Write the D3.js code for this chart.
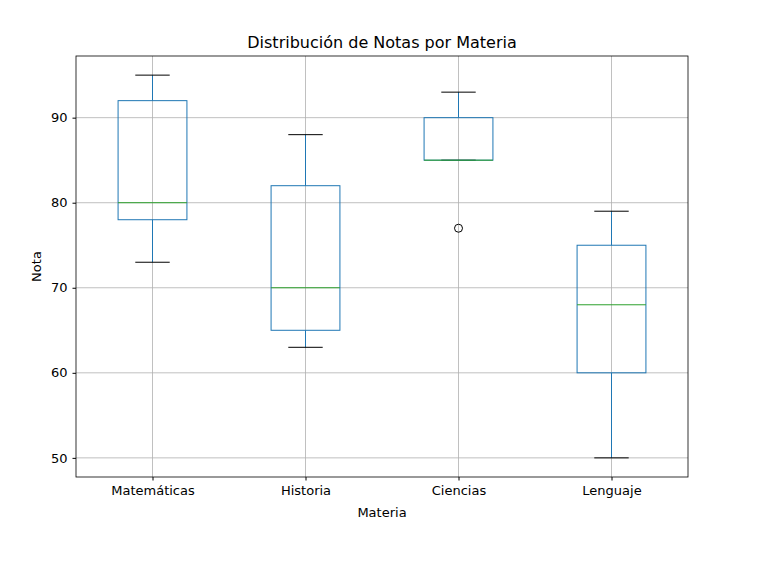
<!DOCTYPE html>
<html lang="es">
<head>
  <meta charset="UTF-8">
  <title>Distribución de Notas por Materia</title>
  <script src="https://d3js.org/d3.v7.min.js"></script>
  <style>
    body { margin: 0; background: #fff; }
    text { font-family: "DejaVu Sans", sans-serif; }
  </style>
</head>
<body>
  <svg id="chart"></svg>
  <script>
    // Box statistics
    const materias = ["Matemáticas", "Historia", "Ciencias", "Lenguaje"];
    const whiskerLow = [73, 63, 85, 50];
    const q1 = [78, 65, 85, 60];
    const medians = [80, 70, 85, 68];
    const q3 = [92, 82, 90, 75];
    const whiskerHigh = [95, 88, 93, 79];
    const outliers = [[], [], [77], []];
    const yTicks = [50, 60, 70, 80, 90];

    const width = 764, height = 561;
    const margin = { top: 56, right: 76, bottom: 84, left: 76 };

    const svg = d3.select("#chart").attr("width", width).attr("height", height);

    // Positions 1..4 like matplotlib
    const x = d3.scaleLinear().domain([0.5, 4.5]).range([margin.left, width - margin.right]);
    const y = d3.scaleLinear().domain([47.75, 97.25]).range([height - margin.bottom, margin.top]);

    const g = svg.append("g");

    // Grid
    g.selectAll(".hgrid").data(yTicks).enter().append("line")
      .attr("x1", x(0.5)).attr("x2", x(4.5))
      .attr("y1", d => y(d)).attr("y2", d => y(d))
      .attr("stroke", "#b0b0b0").attr("stroke-width", 0.8);
    g.selectAll(".vgrid").data(materias).enter().append("line")
      .attr("x1", (d, i) => x(i + 1)).attr("x2", (d, i) => x(i + 1))
      .attr("y1", y(47.75)).attr("y2", y(97.25))
      .attr("stroke", "#b0b0b0").attr("stroke-width", 0.8);

    const boxW = 0.45, capW = 0.225;
    const blue = "#1f77b4";

    materias.forEach((m, i) => {
      const c = i + 1;
      // Whiskers
      g.append("line").attr("x1", x(c)).attr("x2", x(c))
        .attr("y1", y(q3[i])).attr("y2", y(whiskerHigh[i])).attr("stroke", blue);
      g.append("line").attr("x1", x(c)).attr("x2", x(c))
        .attr("y1", y(q1[i])).attr("y2", y(whiskerLow[i])).attr("stroke", blue);
      // Caps
      [whiskerLow[i], whiskerHigh[i]].forEach(v => {
        g.append("line").attr("x1", x(c - capW / 2)).attr("x2", x(c + capW / 2))
          .attr("y1", y(v)).attr("y2", y(v)).attr("stroke", "#000");
      });
      // Box
      g.append("rect")
        .attr("x", x(c - boxW / 2)).attr("width", x(c + boxW / 2) - x(c - boxW / 2))
        .attr("y", y(q3[i])).attr("height", y(q1[i]) - y(q3[i]))
        .attr("fill", "none").attr("stroke", blue);
      // Median
      g.append("line").attr("x1", x(c - boxW / 2)).attr("x2", x(c + boxW / 2))
        .attr("y1", y(medians[i])).attr("y2", y(medians[i])).attr("stroke", "#2ca02c");
      // Outliers
      outliers[i].forEach(v => {
        g.append("circle").attr("cx", x(c)).attr("cy", y(v)).attr("r", 4)
          .attr("fill", "none").attr("stroke", "#000");
      });
    });

    // Frame
    svg.append("rect")
      .attr("x", x(0.5)).attr("y", y(97.25))
      .attr("width", x(4.5) - x(0.5)).attr("height", y(47.75) - y(97.25))
      .attr("fill", "none").attr("stroke", "#000").attr("stroke-width", 0.8);

    // Axes
    const xAxis = svg.append("g").attr("transform", `translate(0,${y(47.75)})`)
      .call(d3.axisBottom(x).tickValues([1, 2, 3, 4]).tickFormat((d) => materias[d - 1]).tickSizeOuter(0).tickSize(3.5).tickPadding(5));
    const yAxis = svg.append("g").attr("transform", `translate(${x(0.5)},0)`)
      .call(d3.axisLeft(y).tickValues(yTicks).tickSizeOuter(0).tickSize(3.5).tickPadding(5));
    [xAxis, yAxis].forEach(a => {
      a.select(".domain").remove();
      a.selectAll("text").attr("font-size", 13).attr("fill", "#000").style("font-family", "DejaVu Sans");
      a.selectAll(".tick line").attr("stroke", "#000");
    });

    // Labels
    svg.append("text").attr("x", (x(0.5) + x(4.5)) / 2).attr("y", 48)
      .attr("text-anchor", "middle").attr("font-size", 16).text("Distribución de Notas por Materia");
    svg.append("text").attr("x", (x(0.5) + x(4.5)) / 2).attr("y", 517)
      .attr("text-anchor", "middle").attr("font-size", 13).text("Materia");
    svg.append("text").attr("transform", `translate(41,${(y(47.75) + y(97.25)) / 2}) rotate(-90)`)
      .attr("text-anchor", "middle").attr("font-size", 13).text("Nota");
  </script>
</body>
</html>
